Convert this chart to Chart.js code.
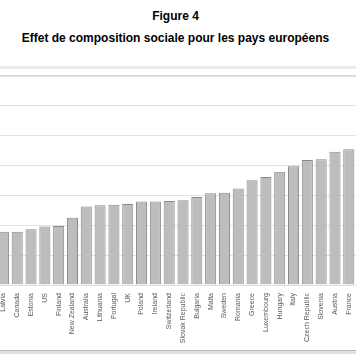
<!DOCTYPE html>
<html>
<head>
<meta charset="utf-8">
<script src="https://cdn.jsdelivr.net/npm/chart.js@4/dist/chart.umd.min.js"></script>
<style>
  html, body { margin:0; padding:0; background:#fff; width:356px; height:364px; overflow:hidden; position:relative; font-family:"Liberation Sans", Arial, sans-serif; }
  .t { position:absolute; left:0; width:351px; text-align:center; font-weight:bold; font-size:12px; line-height:12px; color:#000; white-space:nowrap; }
  .ln { position:absolute; left:0; width:356px; }
  #wrap { position:absolute; left:-10px; top:70px; width:390px; height:290px; }
</style>
</head>
<body>
<div class="t" style="top:10px;">Figure 4</div>
<div class="t" style="top:32px;">Effet de composition sociale pour les pays européens</div>
<div class="ln" style="top:66px;height:3px;background:#ececec;"></div>
<div class="ln" style="top:75px;height:2px;background:#d6d6d6;"></div>
<div class="ln" style="top:350px;height:1px;background:#b8b8b8;"></div>
<div class="ln" style="top:351px;height:3px;background:#e2e2e2;"></div>
<div id="wrap"><canvas id="c" width="390" height="290"></canvas></div>
<script>
const countries = ["Latvia","Canada","Estonia","US","Finland","New Zealand","Australia","Lithuania","Portugal","UK","Poland","Ireland","Switzerland","Slovak Republic","Bulgaria","Malta","Sweden","Romania","Greece","Luxembourg","Hungary","Italy","Czech Republic","Slovenia","Austria","France",""];
const effet = [1.78,1.78,1.87,1.96,1.98,2.25,2.63,2.67,2.69,2.71,2.80,2.80,2.81,2.84,2.95,3.07,3.09,3.23,3.51,3.62,3.79,3.98,4.19,4.21,4.46,4.55,4.72];
const yMin = 0, yMax = 7, yStep = 1;

new Chart(document.getElementById('c'), {
  type: 'bar',
  data: {
    labels: countries,
    datasets: [{
      data: effet,
      backgroundColor: '#bdbdbd',
      borderColor: '#8a8a8a',
      borderWidth: 1,
      barPercentage: 0.8,
      categoryPercentage: 1.0
    }]
  },
  options: {
    responsive: false,
    animation: false,
    devicePixelRatio: 1,
    layout: { padding: { left: 6.5, right: 10.5, top: 6, bottom: 0 } },
    plugins: { legend: { display: false }, title: { display: false }, tooltip: { enabled: false } },
    scales: {
      x: {
        grid: { display: false },
        border: { display: false },
        ticks: {
          autoSkip: false, maxRotation: 90, minRotation: 90, padding: 0,
          color: '#5a5a5a', font: { family: '"Liberation Sans", Arial, sans-serif', size: 7 }
        },
        afterFit: s => { s.height = 75; }
      },
      y: {
        min: yMin, max: yMax,
        border: { display: false },
        grid: { color: '#e2e2e2', drawTicks: false, lineWidth: 1 },
        ticks: { display: false, stepSize: yStep },
        afterFit: s => { s.width = 0; }
      }
    }
  }
});
</script>
</body>
</html>
